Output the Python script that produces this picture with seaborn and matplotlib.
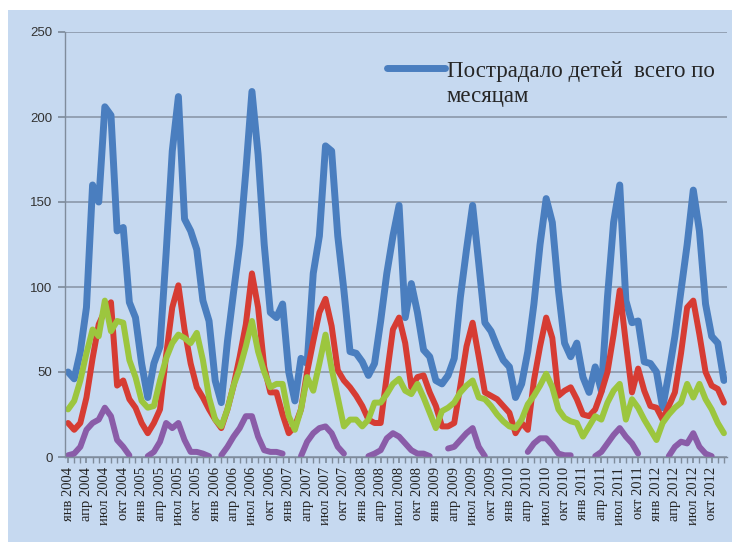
import numpy as np
import pandas as pd
import matplotlib
matplotlib.use("Agg")
import matplotlib.pyplot as plt
import seaborn as sns
from matplotlib.lines import Line2D
from matplotlib.patches import Rectangle

nan = np.nan

# месяцы 2004-2012
years = list(range(2004, 2013))
month_names = ["янв", "фев", "мар", "апр", "май", "июн",
               "июл", "авг", "сен", "окт", "ноя", "дек"]
months = [f"{m} {y}" for y in years for m in month_names]

# Пострадало детей всего по месяцам (синяя линия)
total = [
    50, 46, 62, 88, 160, 150, 206, 201, 133, 135, 91, 82,     # 2004
    55, 35, 55, 65, 120, 180, 212, 140, 133, 122, 92, 80,     # 2005
    45, 32, 68, 97, 125, 168, 215, 178, 125, 85, 82, 90,      # 2006
    50, 33, 58, 55, 108, 130, 183, 180, 130, 98, 62, 61,      # 2007
    56, 48, 55, 80, 108, 130, 148, 82, 102, 85, 63, 59,       # 2008
    45, 43, 48, 58, 94, 122, 148, 114, 79, 74, 65, 57,        # 2009
    53, 35, 43, 62, 90, 125, 152, 138, 98, 67, 59, 67,        # 2010
    47, 38, 53, 39, 94, 138, 160, 92, 79, 80, 56, 55,         # 2011
    50, 29, 49, 71, 98, 125, 157, 133, 90, 71, 67, 45,        # 2012
]

# красная линия
red_vals = [
    20, 16, 20, 35, 58, 78, 86, 91, 42, 45, 34, 29,
    20, 14, 20, 28, 60, 88, 101, 75, 55, 41, 35, 28,
    22, 17, 28, 42, 59, 78, 108, 88, 53, 38, 38, 25,
    14, 18, 28, 50, 68, 85, 93, 77, 51, 45, 41, 36,
    30, 22, 20, 20, 48, 75, 82, 67, 41, 47, 48, 38,
    30, 18, 18, 20, 42, 65, 79, 59, 38, 36, 34, 30,
    26, 14, 20, 16, 45, 65, 82, 70, 36, 39, 41, 34,
    25, 24, 28, 38, 50, 72, 98, 67, 38, 52, 39, 30,
    29, 22, 30, 38, 61, 88, 92, 72, 50, 42, 40, 32,
]

# зеленая линия
green_vals = [
    28, 33, 45, 61, 75, 71, 92, 74, 80, 79, 57, 47,
    33, 29, 30, 45, 58, 67, 72, 70, 67, 73, 57, 35,
    22, 18, 28, 42, 52, 65, 80, 62, 50, 41, 43, 43,
    24, 16, 28, 47, 39, 55, 72, 52, 35, 18, 22, 22,
    18, 22, 32, 32, 37, 43, 46, 39, 37, 43, 35, 26,
    17, 27, 29, 32, 38, 42, 45, 35, 34, 30, 25, 21,
    18, 17, 22, 31, 36, 42, 49, 41, 28, 23, 21, 20,
    12, 18, 24, 22, 32, 39, 43, 22, 34, 29, 22, 16,
    10, 20, 25, 29, 32, 43, 35, 43, 34, 28, 20, 14,
]

# фиолетовая линия (пропуски зимой)
purple_vals = [
    1, 2, 6, 16, 20, 22, 29, 24, 10, 6, 1, nan,
    nan, 0.5, 3, 9, 20, 17, 20, 10, 3, 3, 2, 0.5,
    nan, 1, 6, 12, 17, 24, 24, 12, 4, 3, 3, 2,
    nan, nan, 0.5, 9, 14, 17, 18, 14, 6, 2, nan, nan,
    nan, 0.5, 2, 4, 11, 14, 12, 8, 4, 2, 2, 0.5,
    nan, nan, 5, 6, 10, 14, 17, 6, 0.5, nan, nan, nan,
    nan, nan, nan, 3, 8, 11, 11, 7, 2, 1, 1, nan,
    nan, nan, 0.5, 3, 8, 13, 17, 12, 8, 2, nan, nan,
    nan, nan, 0.5, 6, 9, 8, 14, 6, 2, 0.5, nan, nan,
]

df = pd.DataFrame({
    "n": np.arange(len(months)),
    "month": months,
    "total": total,
    "red": red_vals,
    "green": green_vals,
    "purple": purple_vals,
})

sns.set_theme(style="white")
plt.rcParams["font.family"] = ["Liberation Sans", "DejaVu Sans"]

blue = "#4a7ebf"
red = "#d63c33"
green = "#9cc63e"
purple = "#8a5ca8"
bg = "#c6d9f0"

fig = plt.figure(figsize=(7.32, 5.48), dpi=100)
fig.patch.set_facecolor("white")
fig.patches.append(Rectangle((8 / 732, 6 / 548), 724 / 732, 532 / 548,
                             transform=fig.transFigure, facecolor=bg,
                             edgecolor="none", zorder=-10))

ax = fig.add_axes([65 / 732, 91 / 548, 662 / 732, 425 / 548])
ax.set_facecolor(bg)

kw = dict(ax=ax, estimator=None, sort=False, solid_joinstyle="round",
          solid_capstyle="round")
sns.lineplot(data=df, x="n", y="total", color=blue, linewidth=5.0, **kw)
sns.lineplot(data=df, x="n", y="red", color=red, linewidth=4.3, **kw)
sns.lineplot(data=df, x="n", y="green", color=green, linewidth=4.3, **kw)

# фиолетовую рисуем по кускам, чтобы были разрывы
seg = df["purple"].isna().cumsum()
for _, part in df.dropna(subset=["purple"]).groupby(seg):
    sns.lineplot(data=part, x="n", y="purple", color=purple, linewidth=4.3, **kw)

ax.set_xlim(-0.5, len(months) - 0.5)
ax.set_ylim(0, 250)
ax.set_xlabel("")
ax.set_ylabel("")

ax.set_yticks(range(0, 251, 50))
ax.yaxis.grid(True, color="#8a98aa", linewidth=1.2)
ax.xaxis.grid(False)
ax.set_axisbelow(True)

ax.set_xticks(df["n"][::3])
ax.set_xticklabels(df["month"][::3], rotation=90, fontsize=10.5,
                   family="Liberation Serif", color="#222222")
ax.set_xticks(df["n"], minor=True)
ax.tick_params(axis="x", which="both", length=4, color="#7f8c9c",
               direction="out", pad=3, bottom=True)
ax.tick_params(axis="y", length=5, color="#7f8c9c", direction="out",
               pad=4, labelsize=9.5, labelcolor="#333333", left=True)

for s in ["top", "right"]:
    ax.spines[s].set_visible(False)
for s in ["left", "bottom"]:
    ax.spines[s].set_color("#7f8c9c")
    ax.spines[s].set_linewidth(1.0)

handles = [Line2D([], [], color=blue, lw=5.0, solid_capstyle="round"),
           Line2D([], [], color="none")]
labels = ["Пострадало детей  всего по", "месяцам"]
ax.legend(handles, labels, loc="upper left", bbox_to_anchor=(0.487, 0.933),
          frameon=False, prop={"family": "Liberation Serif", "size": 16.5},
          handlelength=2.5, handletextpad=0.1, labelspacing=0.2,
          borderpad=0, borderaxespad=0)

fig.savefig("out.png", dpi=100)
